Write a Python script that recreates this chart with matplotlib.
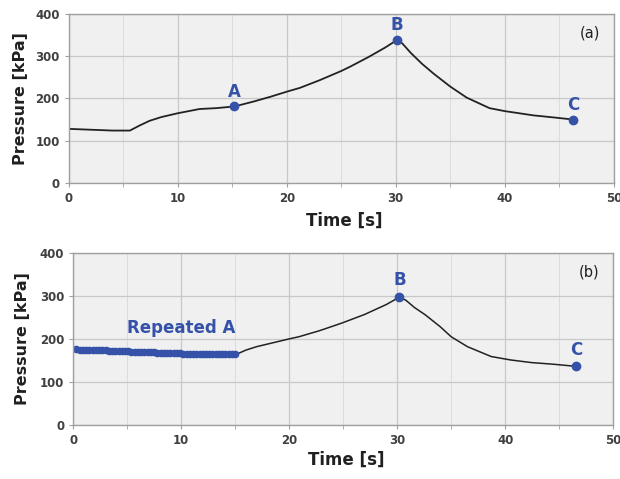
import numpy as np
import matplotlib.pyplot as plt
from matplotlib.ticker import MultipleLocator

# panel (a): pressure trace
t_a = [0, 2, 4, 5.6, 6.5, 7.4, 8.5, 10, 11, 12, 13.5, 15.2, 17, 18.5, 20, 21.2, 23,
       25, 25.8, 27.5, 29, 30.1, 30.6, 31.4, 32.4, 33.5, 35, 36.5, 38.6, 40, 42.6, 44.5, 46.3]
p_a = [128, 126, 124, 124, 136, 147, 156, 165, 170, 175, 177, 181, 193, 204, 216, 225, 243,
       265, 275, 298, 320, 338, 330, 307, 282, 258, 228, 202, 177, 170, 160, 155, 150]
pts_a = {'A': (15.2, 181), 'B': (30.1, 338), 'C': (46.3, 150)}

# panel (b): repeated A points then trace
rep_t = [0.3, 0.6, 0.9, 1.2, 1.5, 1.8, 2.1, 2.4, 2.7, 3.0, 3.3, 3.6, 3.9, 4.2, 4.5, 4.8,
         5.1, 5.4, 5.7, 6.0, 6.3, 6.6, 6.9, 7.2, 7.5, 7.8, 8.1, 8.4, 8.7, 9.0, 9.3, 9.6,
         9.9, 10.2, 10.5, 10.8, 11.1, 11.4, 11.7, 12.0, 12.3, 12.6, 12.9, 13.2, 13.5,
         13.8, 14.1, 14.4, 14.7, 15.0]
rep_p = [176, 175, 175, 175, 174, 174, 174, 173, 173, 173, 172, 172, 172, 172, 171, 171,
         171, 170, 170, 170, 170, 169, 169, 169, 169, 168, 168, 168, 168, 167, 167, 167,
         167, 166, 166, 166, 166, 166, 165, 165, 165, 165, 165, 164, 164, 164, 164, 164,
         164, 164]
t_b = [15.1, 16, 17, 18.5, 20, 20.9, 22.8, 24.9, 27, 29, 30.2, 30.8, 31.6, 32.6, 34, 35,
       36.5, 38.7, 40.5, 42.4, 44.5, 46.6]
p_b = [164, 174, 182, 191, 200, 205, 219, 237, 257, 280, 297, 290, 273, 256, 228, 205,
       182, 159, 151, 145, 141, 136]
pts_b = {'B': (30.2, 297), 'C': (46.6, 136)}

blue = '#3552a8'
txt = '#404040'

fig = plt.figure(figsize=(6.2, 4.79), dpi=100)
ax1 = fig.add_axes([0.111, 0.618, 0.879, 0.353])
ax2 = fig.add_axes([0.118, 0.113, 0.871, 0.359])

def style(ax):
    ax.set_facecolor('#f0f0f0')
    ax.set_xlim(0, 50)
    ax.set_ylim(0, 400)
    ax.xaxis.set_major_locator(MultipleLocator(10))
    ax.xaxis.set_minor_locator(MultipleLocator(5))
    ax.yaxis.set_major_locator(MultipleLocator(100))
    ax.grid(which='major', color='#c8c8c8', lw=0.9)
    ax.grid(which='minor', axis='x', color='#dcdcdc', lw=0.7)
    ax.set_axisbelow(True)
    for s in ax.spines.values():
        s.set_color('#a0a0a0')
        s.set_linewidth(1.0)
    ax.tick_params(which='both', length=3, color='#a0a0a0', labelsize=8.5, labelcolor=txt)
    for lab in ax.get_xticklabels() + ax.get_yticklabels():
        lab.set_fontweight('bold')
    ax.set_xlabel('Time [s]', fontsize=12, fontweight='bold', color='#202020')
    ax.set_ylabel('Pressure [kPa]', fontsize=11.5, fontweight='bold', color='#202020')

style(ax1)
ax1.plot(t_a, p_a, color='#222222', lw=1.3)
for k, (x, y) in pts_a.items():
    ax1.plot(x, y, 'o', color=blue, ms=6)
    ax1.text(x, y + 14, k, color=blue, fontsize=12, fontweight='bold', ha='center', va='bottom')
ax1.text(0.975, 0.86, '(a)', transform=ax1.transAxes, ha='right', fontsize=10.5, color='#202020')
ax1.xaxis.set_label_coords(0.505, -0.17)
ax1.yaxis.set_label_coords(-0.075, 0.5)

style(ax2)
ax2.plot(t_b, p_b, color='#222222', lw=1.1)
ax2.plot(rep_t, rep_p, 'o', color=blue, ms=5.5, mew=0)
for k, (x, y) in pts_b.items():
    ax2.plot(x, y, 'o', color=blue, ms=6)
    ax2.text(x, y + 18, k, color=blue, fontsize=12, fontweight='bold', ha='center', va='bottom')
ax2.text(10, 225, 'Repeated A', color=blue, fontsize=12, fontweight='bold', ha='center', va='center')
ax2.text(0.975, 0.86, '(b)', transform=ax2.transAxes, ha='right', fontsize=10.5, color='#202020')
ax2.xaxis.set_label_coords(0.505, -0.15)
ax2.yaxis.set_label_coords(-0.08, 0.5)

fig.savefig('out.png', dpi=100)
